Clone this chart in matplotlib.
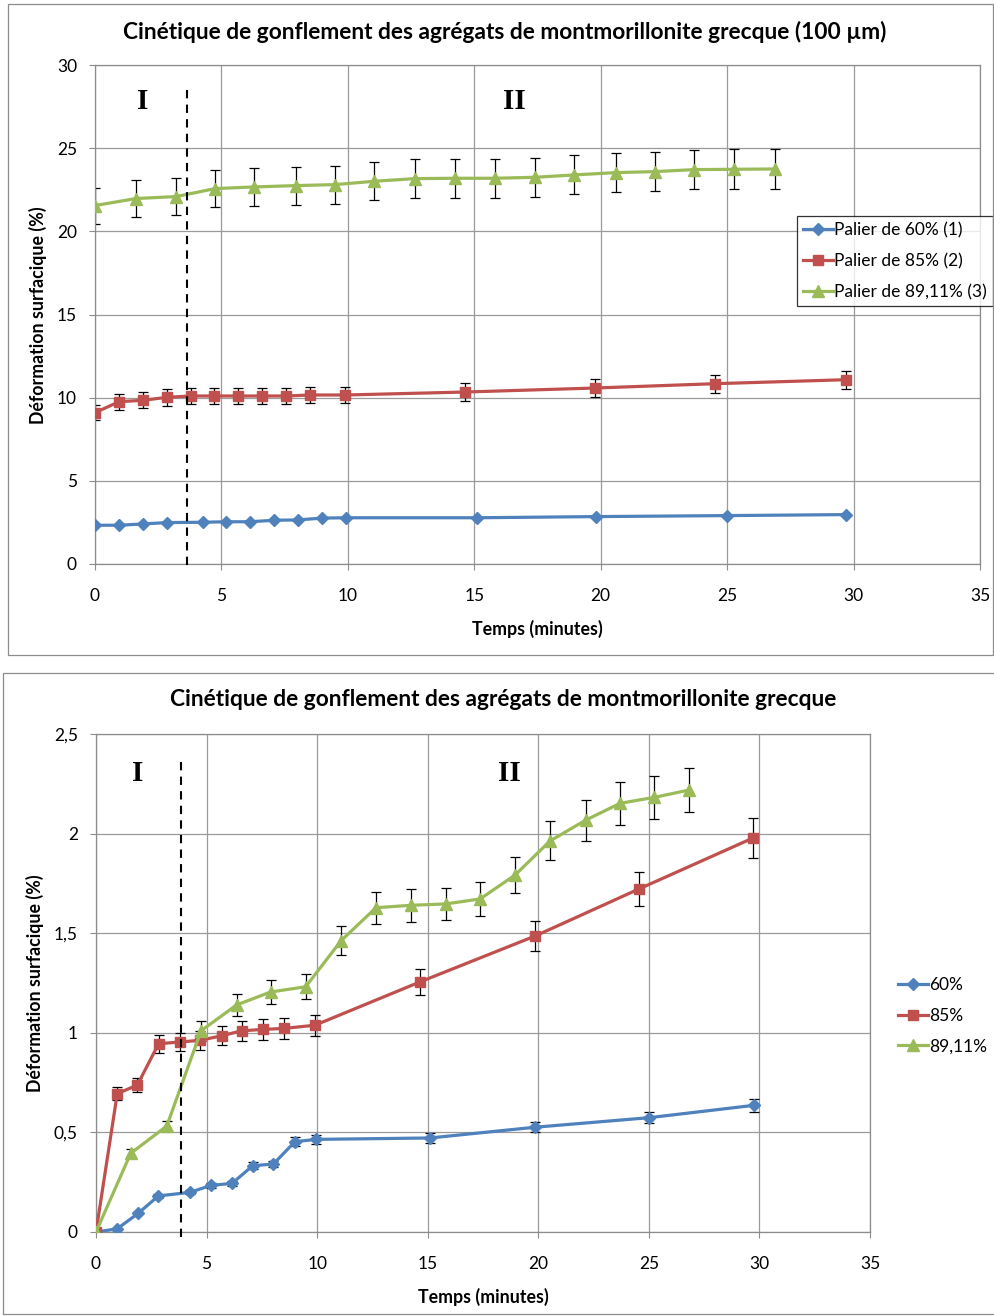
import matplotlib
matplotlib.use("Agg")
import matplotlib.pyplot as plt
from matplotlib.patches import Rectangle
from matplotlib.ticker import FuncFormatter

plt.rcParams['font.family'] = ['Lato', 'DejaVu Sans']

# ---------------- data (top chart, 100 µm) ----------------
t_top_60 = [0, 0.96, 1.91, 2.85, 4.28, 5.18, 6.14, 7.08, 8.02, 8.99, 9.91, 15.12, 19.81, 25.0, 29.72]
top_60 = [2.33, 2.33, 2.41, 2.49, 2.51, 2.54, 2.54, 2.63, 2.65, 2.76, 2.78, 2.78, 2.85, 2.91, 2.97]

t_top_85 = [0, 0.96, 1.89, 2.84, 3.78, 4.72, 5.67, 6.59, 7.55, 8.5, 9.9, 14.65, 19.78, 24.52, 29.7]
top_85 = [9.1, 9.76, 9.84, 10.02, 10.1, 10.1, 10.1, 10.1, 10.1, 10.16, 10.16, 10.34, 10.58, 10.84, 11.08]
err_top_85 = [0.45, 0.49, 0.49, 0.5, 0.5, 0.5, 0.5, 0.5, 0.5, 0.51, 0.51, 0.52, 0.53, 0.54, 0.55]

t_top_89 = [0, 1.61, 3.2, 4.76, 6.3, 7.95, 9.5, 11.04, 12.67, 14.23, 15.82, 17.4, 18.94, 20.59, 22.14, 23.68, 25.27, 26.88]
top_89 = [21.55, 21.97, 22.09, 22.57, 22.67, 22.75, 22.81, 23.01, 23.17, 23.19, 23.19, 23.25, 23.39, 23.53, 23.59, 23.71, 23.73, 23.75]
err_top_89 = [1.08, 1.1, 1.1, 1.13, 1.13, 1.14, 1.14, 1.15, 1.16, 1.16, 1.16, 1.16, 1.17, 1.18, 1.18, 1.19, 1.19, 1.19]

# ---------------- data (bottom chart) ----------------
t_bot_60 = [0, 0.96, 1.91, 2.82, 4.25, 5.2, 6.15, 7.09, 8.02, 8.99, 9.94, 15.1, 19.86, 25.02, 29.76]
bot_60 = [0, 0.016, 0.094, 0.181, 0.199, 0.234, 0.244, 0.333, 0.341, 0.453, 0.465, 0.472, 0.526, 0.574, 0.636]
err_bot_60 = [0, 0.001, 0.005, 0.009, 0.01, 0.012, 0.012, 0.017, 0.017, 0.023, 0.023, 0.024, 0.026, 0.029, 0.032]

t_bot_85 = [0, 0.96, 1.87, 2.83, 3.80, 4.70, 5.68, 6.59, 7.55, 8.50, 9.9, 14.64, 19.86, 24.55, 29.73]
bot_85 = [0, 0.694, 0.738, 0.945, 0.954, 0.962, 0.985, 1.01, 1.017, 1.022, 1.038, 1.255, 1.486, 1.722, 1.979]
err_bot_85 = [0, 0.032, 0.035, 0.045, 0.046, 0.047, 0.048, 0.05, 0.051, 0.051, 0.052, 0.063, 0.074, 0.086, 0.099]

t_bot_89 = [0, 1.57, 3.2, 4.75, 6.36, 7.9, 9.48, 11.08, 12.66, 14.23, 15.82, 17.37, 18.95, 20.53, 22.15, 23.70, 25.25, 26.83]
bot_89 = [0, 0.395, 0.532, 1.01, 1.14, 1.205, 1.231, 1.462, 1.628, 1.640, 1.647, 1.672, 1.792, 1.963, 2.068, 2.152, 2.182, 2.219]
err_bot_89 = [0, 0.02, 0.027, 0.05, 0.057, 0.06, 0.062, 0.073, 0.081, 0.082, 0.082, 0.084, 0.09, 0.098, 0.103, 0.108, 0.109, 0.111]

labels_top = ['Palier de 60% (1)', 'Palier de 85% (2)', 'Palier de 89,11% (3)']
labels_bot = ['60%', '85%', '89,11%']
title_top = 'Cinétique de gonflement des agrégats de montmorillonite grecque (100 µm)'
title_bot = 'Cinétique de gonflement des agrégats de montmorillonite grecque'
xlabel = 'Temps (minutes)'
ylabel = 'Déformation surfacique (%)'

BLUE = '#4F81BD'
RED = '#C0504D'
GREEN = '#9BBB59'
GRID = '#9a9a9a'

W, H = 995, 1316
fig = plt.figure(figsize=(W / 100, H / 100), dpi=100)

# outer chart frames
fig.add_artist(Rectangle((8 / W, 1 - 655 / H), (993 - 8) / W, (655 - 4) / H,
                         transform=fig.transFigure, fill=False, edgecolor='#8c8c8c', lw=0.9))
fig.add_artist(Rectangle((3 / W, 1 - 1314 / H), (997 - 3) / W, (1314 - 673) / H,
                         transform=fig.transFigure, fill=False, edgecolor='#8c8c8c', lw=0.9))

ax1 = fig.add_axes([95 / W, 1 - 564 / H, 885 / W, 499 / H])
ax2 = fig.add_axes([96 / W, 1 - 1232 / H, 774 / W, 498 / H])


def style(ax, ymax, ystep, fmt):
    ax.set_xlim(0, 35)
    ax.set_ylim(0, ymax)
    ax.set_xticks(range(0, 36, 5))
    n = int(round(ymax / ystep))
    ax.set_yticks([i * ystep for i in range(n + 1)])
    ax.yaxis.set_major_formatter(FuncFormatter(fmt))
    ax.grid(True, color=GRID, lw=0.9)
    ax.set_axisbelow(True)
    for s in ax.spines.values():
        s.set_color('#8c8c8c')
        s.set_linewidth(0.9)
    ax.tick_params(direction='out', length=4, color='#8c8c8c', labelsize=12.5,
                   labelcolor='black')
    ax.tick_params(axis='x', pad=13)
    ax.tick_params(axis='y', pad=9)
    ax.set_xlabel(xlabel, fontsize=12.8, fontweight='bold', labelpad=12)


def fmt_top(v, p):
    return f'{int(round(v))}'


def fmt_bot(v, p):
    s = f'{v:g}'
    return s.replace('.', ',')


style(ax1, 30, 5, fmt_top)
style(ax2, 2.5, 0.5, fmt_bot)

ekw = dict(ecolor='black', elinewidth=0.9, capsize=3.5, capthick=0.9)

# top chart
ax1.plot(t_top_60, top_60, color=BLUE, lw=2.3, marker='D', ms=6, label=labels_top[0], zorder=3)
ax1.errorbar(t_top_85, top_85, yerr=err_top_85, fmt='none', zorder=2, **ekw)
ax1.plot(t_top_85, top_85, color=RED, lw=2.3, marker='s', ms=7.5, label=labels_top[1], zorder=3)
ax1.errorbar(t_top_89, top_89, yerr=err_top_89, fmt='none', zorder=2, **ekw)
ax1.plot(t_top_89, top_89, color=GREEN, lw=2.3, marker='^', ms=8, label=labels_top[2], zorder=3)

# bottom chart
ax2.errorbar(t_bot_60, bot_60, yerr=err_bot_60, fmt='none', zorder=2, **ekw)
ax2.plot(t_bot_60, bot_60, color=BLUE, lw=2.3, marker='D', ms=6, label=labels_bot[0], zorder=3)
ax2.errorbar(t_bot_85, bot_85, yerr=err_bot_85, fmt='none', zorder=2, **ekw)
ax2.plot(t_bot_85, bot_85, color=RED, lw=2.3, marker='s', ms=7.5, label=labels_bot[1], zorder=3)
ax2.errorbar(t_bot_89, bot_89, yerr=err_bot_89, fmt='none', zorder=2, **ekw)
ax2.plot(t_bot_89, bot_89, color=GREEN, lw=2.3, marker='^', ms=8, label=labels_bot[2], zorder=3)

# dashed separators
ax1.plot([3.64, 3.64], [28.5, -0.4], color='black', ls=(0, (4, 3)), lw=1.5, clip_on=False, zorder=4)
ax2.plot([3.83, 3.83], [2.36, -0.04], color='black', ls=(0, (4, 3)), lw=1.5, clip_on=False, zorder=4)

# phase labels
rkw = dict(fontsize=21, fontweight='bold', family=['Liberation Serif'], ha='center', va='center')
ax1.text(1.9, 27.8, 'I', **rkw)
ax1.text(16.6, 27.8, 'II', **rkw)
ax2.text(1.9, 2.30, 'I', **rkw)
ax2.text(18.7, 2.30, 'II', **rkw)

# titles
fig.text(505 / W, 1 - 32 / H, title_top, fontsize=16.4, fontweight='bold', ha='center', va='center')
fig.text(503 / W, 1 - 699 / H, title_bot, fontsize=16.4, fontweight='bold', ha='center', va='center')

# y labels
fig.text(38 / W, 1 - 315 / H, ylabel, fontsize=12.8, fontweight='bold', rotation=90,
         ha='center', va='center')
fig.text(35 / W, 1 - 983 / H, ylabel, fontsize=12.8, fontweight='bold', rotation=90,
         ha='center', va='center')

# legends
leg1 = ax1.legend(loc='upper left', bbox_to_anchor=(797 / W, 1 - 216 / H), bbox_transform=fig.transFigure,
                  fontsize=12.5, frameon=True, fancybox=False, edgecolor='black', borderpad=0.35,
                  handlelength=1.7, handletextpad=0.1, labelspacing=0.85, borderaxespad=0)
leg1.get_frame().set_linewidth(0.9)
leg2 = ax2.legend(loc='upper left', bbox_to_anchor=(898 / W, 1 - 977 / H), bbox_transform=fig.transFigure,
                  fontsize=12.5, frameon=False, handlelength=1.7, handletextpad=0.1,
                  labelspacing=0.85, borderaxespad=0, borderpad=0)

fig.savefig('out.png', dpi=100)
